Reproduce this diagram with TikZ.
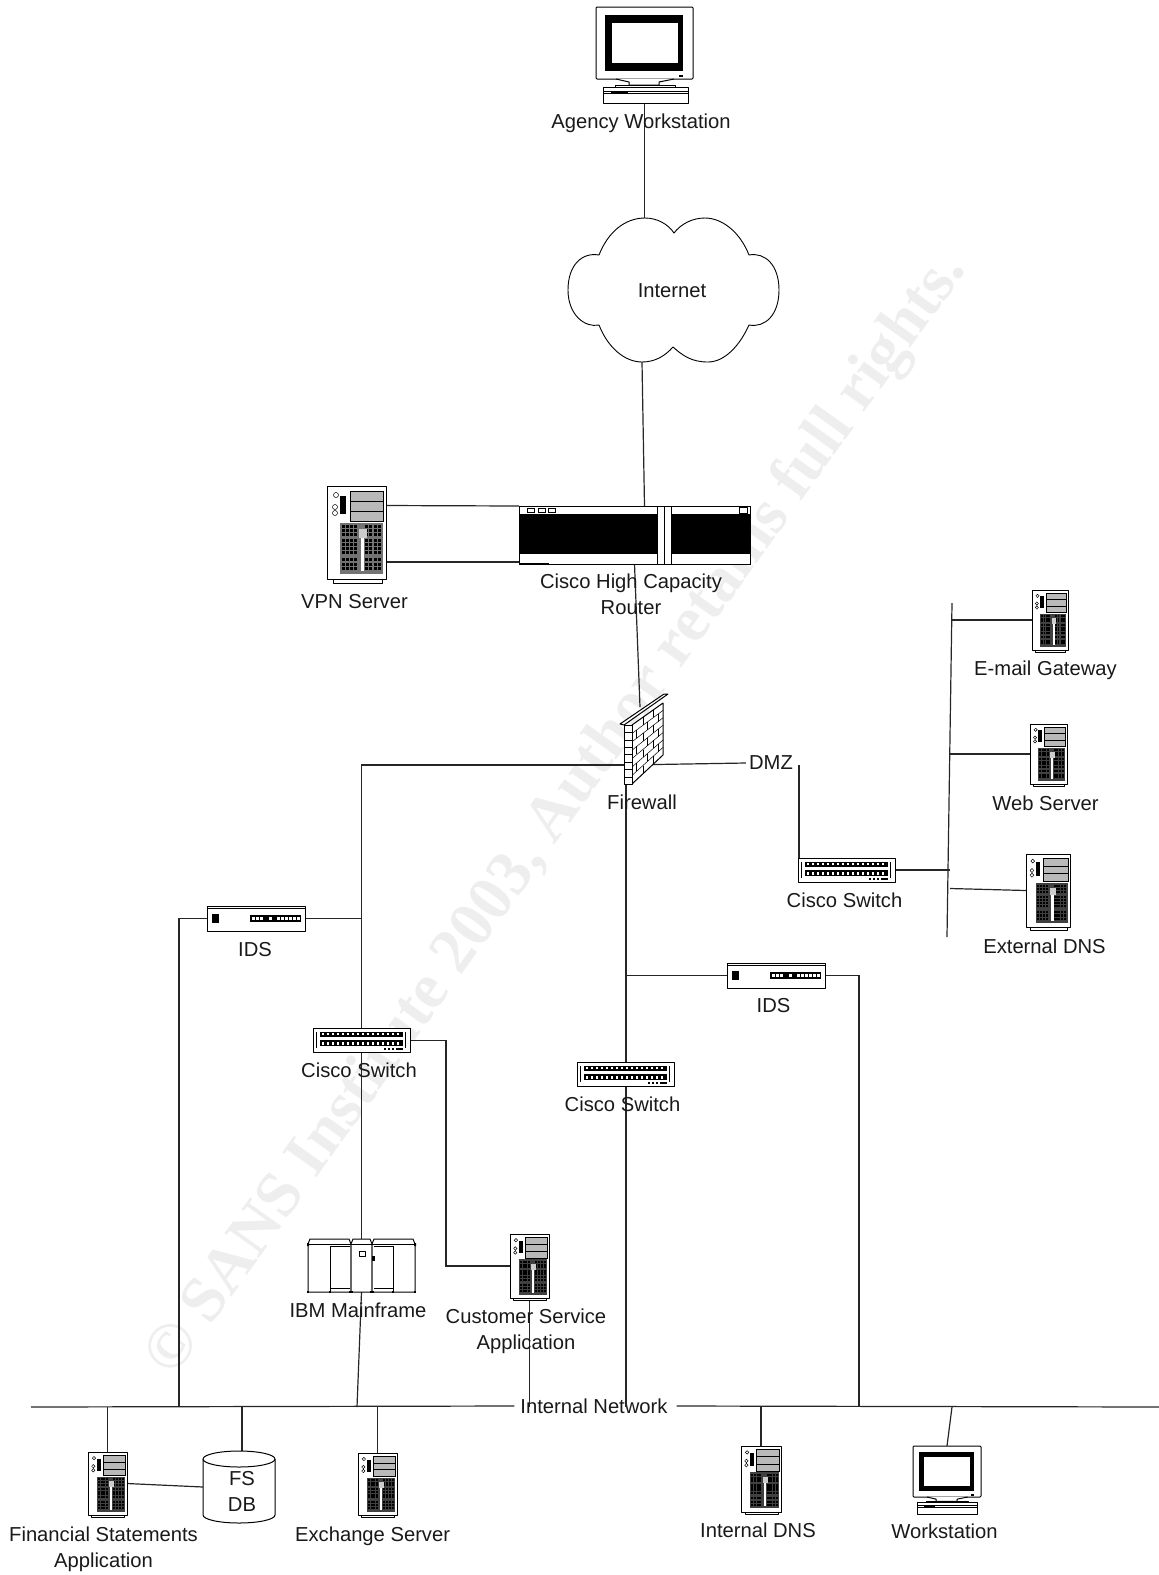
\documentclass[tikz,border=0pt]{standalone}
\usepackage{fontspec}
\setmainfont{Liberation Sans}
\newfontfamily\markfont{Liberation Serif}
\usetikzlibrary{calc}
\tikzset{
    common settings/.style={x=1pt, y=-1pt, font=\fontsize{20.2}{26}\selectfont},
    icon/.style={draw=black, line width=1pt, line join=round},
    fineline/.style={draw=black, line width=0.5pt},
    link/.style={draw=black!85, line width=1.2pt},
    iconbox/.style={anchor=north west, inner sep=0pt, outer sep=0pt},
    lbl/.style={inner sep=0pt, align=center, text=black!90},
    gaplbl/.style={inner sep=6pt, text=black!90},
    server/.pic={
        \draw[icon, fill=white] (6,93) rectangle (55,97);
        \draw[icon, fill=white] (0,0) rectangle (59,93);
        \draw[fineline, fill=gray!55] (23,5) rectangle (56,35);
        \draw[fineline] (23,15) -- (56,15) (23,25) -- (56,25);
        \fill (13,10) rectangle (19,28);
        \draw[fineline] (9,9) circle (2.5) (8,21) circle (2.5) (8,27) circle (2.5);
        \fill[\pan] (13,37) rectangle (56,88);
        \foreach \kx in {15,19,23,27,38,42,47,51} {
            \foreach \ky in {39,43,47,53,57,61,65,72,77,81} {
                \fill (\kx,\ky) rectangle ++(3,3);
            }
        }
        \fill[white] (34,52) rectangle (37,85);
        \fill[gray!40] (32,43) rectangle (40,52);
    },
    monitor/.pic={
        \draw[icon, fill=white, rounded corners=1pt] (0,0) rectangle (97,72);
        \fill (9,8) rectangle (87,64);
        \fill[white] (16,16) rectangle (82,56);
        \fill (83,68) rectangle (87,70);
        \draw[icon, fill=white] (20,72) -- (33,75) -- (33,78) -- (63,78) -- (63,75) -- (78,72);
        \draw[icon, fill=white] (19,78) rectangle (79,81);
        \draw[icon, fill=white] (7,80) rectangle (92,96);
        \draw[fineline] (7,84) -- (92,84) (7,86) -- (92,86);
        \fill (15,84) rectangle (32,86.5);
    },
    switchbox/.pic={
        \draw[icon, fill=white] (0,0) rectangle (97,24);
        \draw[fineline] (3.5,4) -- (3.5,20) (92,4) -- (92,20);
        \fill (7,3.5) rectangle (90,8.5);
        \fill (7,12) rectangle (90,18);
        \foreach \kx in {9,14,...,88} {
            \fill[white] (\kx,5) rectangle ++(2,2);
            \fill[white] (\kx,14) rectangle ++(2,2.5);
        }
        \foreach \kx/\kw in {71/2,75/2,79/2,83/7} {
            \fill (\kx,19.5) rectangle ++(\kw,2.5);
        }
    },
    idsbox/.pic={
        \draw[icon, fill=white] (0,0) rectangle (98,25);
        \draw[fineline] (0,2.5) -- (98,2.5);
        \fill (5,8) rectangle (12,17);
        \fill (43,9) rectangle (94,16);
        \foreach \kx in {45,49,53,62,70,74,78,82,86,90} {
            \fill[white] (\kx,11) rectangle ++(2.5,3);
        }
    },
    routerbox/.pic={
        \draw[icon, fill=white] (0,0) rectangle (231,58);
        \fill (0,8) rectangle (231,48);
        \fill[white] (138,0) rectangle (152,58);
        \draw[icon] (138,0) -- (138,58) (145,0) -- (145,58) (152,0) -- (152,58);
        \foreach \kx in {8,19,29} {
            \draw[fineline] (\kx,2) rectangle ++(7,4);
        }
        \draw[icon] (220,1) rectangle (228,7);
        \draw[icon] (0,0) rectangle (231,58);
        \draw[line width=1.6pt] (0,58) -- (30,58);
    },
    firewallbox/.pic={
        \draw[icon, fill=white] (12,31) -- (43,9) -- (43,61) -- (12,90) -- cycle;
        \foreach \k in {1,...,6} {
            \draw[fineline] (12,{31+\k*8.4}) -- (43,{9+\k*7.4});
        }
        \foreach \k/\t in {0/.35,0/.7,1/.15,1/.5,1/.85,2/.35,2/.7,3/.15,3/.5,3/.85,4/.35,4/.7,5/.15,5/.5,5/.85,6/.35,6/.7} {
            \pgfmathsetmacro{\bx}{12+31*\t}
            \pgfmathsetmacro{\bya}{31+\k*8.4+\t*(-22-\k)}
            \draw[fineline] (\bx,\bya) -- ++(0,7.8);
        }
        \draw[icon, fill=white] (4,31) rectangle (12,90);
        \foreach \k in {1,...,7} {
            \draw[fineline] (4,{31+\k*7.4}) -- (12,{31+\k*7.4});
        }
        \draw[icon, fill=white] (0,30) -- (44,0) -- (48,0) -- (4,31) -- cycle;
    },
    mainframebox/.pic={
        \draw[icon, fill=white] (0,5) -- (2,0) -- (41,0) -- (43,5) -- (43,53) -- (0,53) -- cycle;
        \draw[icon, fill=white] (64,5) -- (66,0) -- (105,0) -- (107,5) -- (107,53) -- (64,53) -- cycle;
        \draw[icon, fill=white] (43,5) -- (45,0) -- (62,0) -- (64,5) -- (64,53) -- (43,53) -- cycle;
        \draw[icon] (0,5) -- (107,5);
        \draw[draw=black!60, line width=1.6pt] (43,6) -- (43,53) (64,6) -- (64,53);
        \draw[icon] (22,7) -- (22,53) (85,7) -- (85,53);
        \draw[fineline] (22,7) -- (42,7) (22,49) -- (42,49) (66,7) -- (85,7) (66,49) -- (85,49);
        \draw[icon] (51,12) rectangle (57,17);
        \fill (64,17) rectangle (67,22);
        \foreach \kx in {0,22,42,44,63,65,85,107} {
            \fill ({\kx-1},52) rectangle ++(2,2);
        }
        \fill (-1,4) rectangle (1,7) (106,4) rectangle (108,7);
    }
}
\begin{document}
\begin{tikzpicture}[common settings]

    % page and watermark
    \useasboundingbox (0,0) rectangle (1159,1575);
    \node[inner sep=0pt, rotate=54.4, text=gray!13, font=\markfont\bfseries\fontsize{64.5}{70}\selectfont] (mark) at (557.5,815)
        {© SANS Institute 2003, Author retains full rights.};

    % 1. Boxes for the devices
    \foreach \name/\lx/\ty/\bw/\bh in {vpn/327/486/59/93, mailgw/1032/590/36/60, webgw/1030/724/37/60, extdns/1026/854/44/73,
        custsvc/510/1234/39/64, finapp/88/1452/39/63, exch/358/1453/39/62, intdns/741/1446/40/66} {
        \node[iconbox, minimum width=\bw pt, minimum height=\bh pt] (\name) at (\lx,\ty) {};
    }
    \node[iconbox, minimum width=97pt, minimum height=96pt] (agency) at (596,7) {};
    \node[iconbox, minimum width=68pt, minimum height=68pt] (wkstn) at (913,1446) {};
    \node[iconbox, minimum width=231pt, minimum height=58pt] (router) at (519,506) {};
    \node[iconbox, minimum width=48pt, minimum height=91pt] (firewall) at (620,694) {};
    \node[iconbox, minimum width=97pt, minimum height=24pt] (switcha) at (798,858) {};
    \node[iconbox, minimum width=97pt, minimum height=25pt] (switchb) at (313,1028) {};
    \node[iconbox, minimum width=97pt, minimum height=24pt] (switchc) at (577,1062) {};
    \node[iconbox, minimum width=98pt, minimum height=25pt] (idsa) at (207,906) {};
    \node[iconbox, minimum width=98pt, minimum height=25pt] (idsb) at (727,963) {};
    \node[iconbox, minimum width=107pt, minimum height=53pt] (mainframe) at (308,1239) {};
    \node[iconbox, minimum width=72pt, minimum height=72pt] (fsdb) at (203,1451) {};
    \node[iconbox, minimum width=212pt, minimum height=144pt] (cloud) at (568,218) {};

    % 2. Labels that break the lines
    \node[gaplbl] (intnet) at (594,1406) {Internal Network};
    \node[gaplbl, inner sep=3pt] (dmz) at (771,763) {DMZ};

    % 3. Free ends
    \coordinate (bus) at (0,1407);
    \coordinate (busleft) at (31,1407);
    \coordinate (busright) at (1159,1407);
    \coordinate (fwjoint) at (626,765);
    \coordinate (dmzdrop) at (799,765);
    \coordinate (cloudbot) at (642,362);
    \coordinate (dmztop) at (952,603);
    \coordinate (dmzmid) at (950,770);
    \coordinate (dmzbot) at (947,937);
    \coordinate (busmain) at (357,1407);
    \coordinate (busidsa) at (179,1407);
    \coordinate (busidsb) at (859,1407);
    \coordinate (buswk) at (952,1407);

    % 4. Connectors
    \draw[link] (busleft) -- (intnet.west);
    \draw[link] ($(intnet.east)+(3,0)$) -- (busright);
    \draw[link] (agency.south) -- (agency.south |- cloud.north);
    \draw[link] (cloudbot) -- ($(router.north)+(10,0)$);
    \draw[link] ($(vpn.north east)+(-3,19.5)$) -- (router.north west);
    \draw[link] ($(vpn.south east)+(-3,-17)$) -- ($(router.south west)+(0,-2)$);
    \draw[link] (router.south) -- ($(firewall.north)+(-4,13)$);
    \draw[link] (fwjoint) -| (switchb.north);
    \draw[link] (fwjoint) -- (dmz.west);
    \draw[link] (dmzdrop) -- (dmzdrop |- switcha.north);
    \draw[link] (fwjoint) -- (fwjoint |- bus);
    \draw[link] (switchb.south) -- (mainframe.north);
    \draw[link] (mainframe.south) -- (busmain);
    \draw[link] (idsa.east) -- (idsa.east -| switchb.north);
    \draw[link] (idsa.west) -| (busidsa);
    \draw[link] (idsb.west) -- (idsb.west -| fwjoint);
    \draw[link] (idsb.east) -| (busidsb);
    \draw[link] (switchb.east) -- ++(36,0) |- (custsvc.west);
    \draw[link] (custsvc.south) -- (custsvc.south |- bus);
    \draw[link] (finapp.north) -- (finapp.north |- bus);
    \draw[link] ($(fsdb.north)+(3,0)$) -- ($(fsdb.north |- bus)+(3,0)$);
    \draw[link] (finapp.east) -- (fsdb.west);
    \draw[link] (exch.north) -- (exch.north |- bus);
    \draw[link] (intdns.north) -- (intdns.north |- bus);
    \draw[link] (wkstn.north) -- (buswk);
    \draw[link] (dmztop) -- (dmzbot);
    \draw[link] (switcha.east) -- (switcha.east -| dmzmid);
    \draw[link] (mailgw.west) -- (mailgw.west -| dmztop);
    \draw[link] (webgw.west) -- (webgw.west -| dmzmid);
    \draw[link] (extdns.west) -- ($(extdns.west -| dmzmid)+(0,-2)$);

    % 5. Icons over the lines
    \foreach \name/\bw/\bh/\pan in {vpn/59/93/black!55, mailgw/36/60/black!75, webgw/37/60/black!75, extdns/44/73/black!75,
        custsvc/39/64/black!75, finapp/39/63/black!75, exch/39/62/black!75, intdns/40/66/black!75} {
        \pic[xscale=\bw/59, yscale=\bh/93] at (\name.north west) {server};
    }
    \pic at (agency.north west) {monitor};
    \pic[xscale=68/97, yscale=68/96] at (wkstn.north west) {monitor};
    \pic at (router.north west) {routerbox};
    \pic at (firewall.north west) {firewallbox};
    \foreach \name in {switcha, switchb, switchc} {
        \pic at (\name.north west) {switchbox};
    }
    \foreach \name in {idsa, idsb} {
        \pic at (\name.north west) {idsbox};
    }
    \pic at (mainframe.north west) {mainframebox};

    % cloud outline
    \draw[icon, fill=white, line width=0.9pt] (599,255) .. controls (608,232) and (625,218) .. (645,218)
        .. controls (657,218) and (668,224) .. (674,233)
        .. controls (681,224) and (692,218) .. (705,218)
        .. controls (722,218) and (740,232) .. (749,255)
        .. controls (765,252) and (779,265) .. (779,290)
        .. controls (779,315) and (765,328) .. (749,325)
        .. controls (740,345) and (725,362) .. (708,362)
        .. controls (692,362) and (683,356) .. (673,347)
        .. controls (665,356) and (655,362) .. (642,362)
        .. controls (625,362) and (608,348) .. (599,325)
        .. controls (585,328) and (568,315) .. (568,290)
        .. controls (568,265) and (582,252) .. (599,255) -- cycle;

    % database
    \draw[icon, fill=white] (203,1459) -- (203,1515) arc[start angle=180, end angle=360, x radius=36pt, y radius=8pt] -- (275,1459);
    \draw[icon, fill=white] (239,1459) ellipse [x radius=36pt, y radius=8pt];

    % 6. Labels
    \foreach \name/\tx/\lx/\ly in {agencylbl/Agency Workstation/641/123, cloudlbl/Internet/672/291, vpnlbl/VPN Server/354.5/601.5,
        routerlbl/{Cisco High Capacity\\Router}/631/594, firewalllbl/Firewall/642/802, swalbl/Cisco Switch/844.5/900,
        idsalbl/IDS/255/950, swblbl/Cisco Switch/359/1070, swclbl/Cisco Switch/622.5/1104, idsblbl/IDS/773.5/1006,
        mainlbl/IBM Mainframe/358/1310, custlbl/{Customer Service\\Application}/526/1331, finlbl/{Financial Statements\\Application}/103.5/1549,
        exchlbl/Exchange Server/372.6/1536, intdnslbl/Internal DNS/758/1530, wklbl/Workstation/944.5/1531,
        maillbl/E-mail Gateway/1045.5/670, weblbl/Web Server/1045.5/803.5, extlbl/External DNS/1044.5/946, dblbl/{FS\\DB}/242/1491.5} {
        \node[lbl] (\name) at (\lx,\ly) {\tx};
    }

\end{tikzpicture}
\end{document}
